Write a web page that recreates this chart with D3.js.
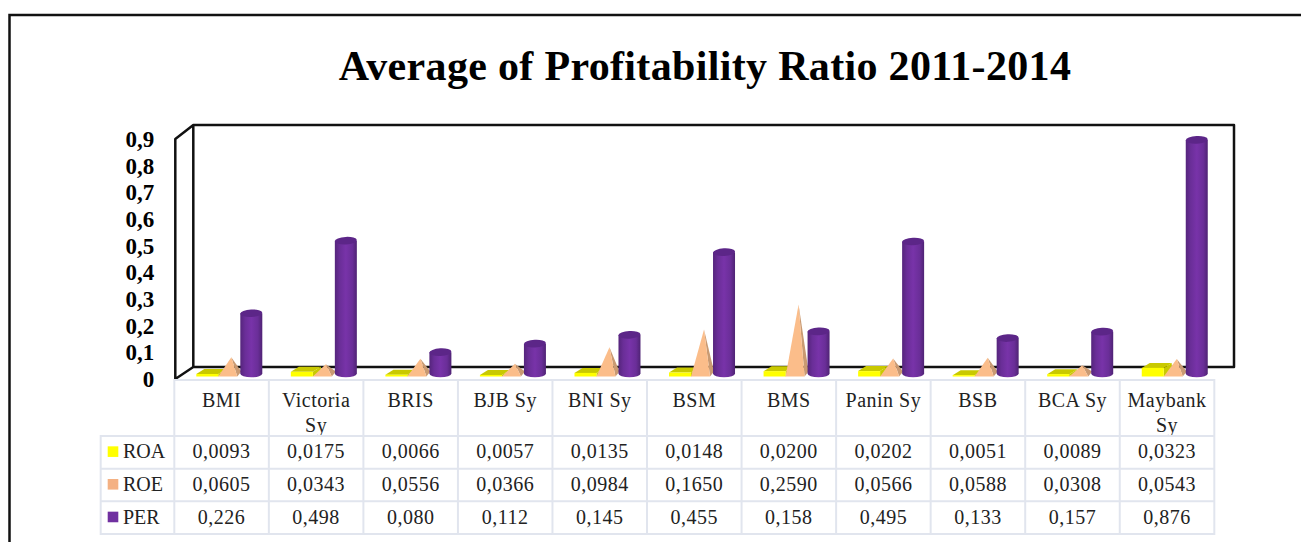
<!DOCTYPE html>
<html>
<head>
<meta charset="utf-8">
<script src="https://cdn.jsdelivr.net/npm/d3@7"></script>
<style>
  html, body { margin: 0; padding: 0; background: #fff; }
  svg { display: block; }
  text { font-family: "Liberation Serif", serif; }
  .cell { font-size: 20px; letter-spacing: 0.5px; fill: #222; text-anchor: middle; }
</style>
</head>
<body>
<div id="chart"></div>
<script>
  const categories = ["BMI", "Victoria Sy", "BRIS", "BJB Sy", "BNI Sy", "BSM", "BMS", "Panin Sy", "BSB", "BCA Sy", "Maybank Sy"];
  const wrapped = ["Victoria Sy", "Maybank Sy"];
  const seriesNames = ["ROA", "ROE", "PER"];
  const seriesColors = ["#ffff00", "#f4b183", "#7030a0"];

  const roa = [0.0093, 0.0175, 0.0066, 0.0057, 0.0135, 0.0148, 0.02, 0.0202, 0.0051, 0.0089, 0.0323];
  const roe = [0.0605, 0.0343, 0.0556, 0.0366, 0.0984, 0.165, 0.259, 0.0566, 0.0588, 0.0308, 0.0543];
  const per = [0.226, 0.498, 0.08, 0.112, 0.145, 0.455, 0.158, 0.495, 0.133, 0.157, 0.876];

  const roaLabels = ["0,0093", "0,0175", "0,0066", "0,0057", "0,0135", "0,0148", "0,0200", "0,0202", "0,0051", "0,0089", "0,0323"];
  const roeLabels = ["0,0605", "0,0343", "0,0556", "0,0366", "0,0984", "0,1650", "0,2590", "0,0566", "0,0588", "0,0308", "0,0543"];
  const perLabels = ["0,226", "0,498", "0,080", "0,112", "0,145", "0,455", "0,158", "0,495", "0,133", "0,157", "0,876"];

  const yTicks = [0, 0.1, 0.2, 0.3, 0.4, 0.5, 0.6, 0.7, 0.8, 0.9];

  const width = 1301;
  const height = 542;

  const svg = d3.select("#chart").append("svg").attr("width", width).attr("height", height);

  /* ----------------------- Scales ----------------------- */
  const x = d3.scaleBand().domain(categories).range([174.3, 1214.3]);
  const xInner = d3.scaleBand().domain(seriesNames).range([22, 88]);
  const y = d3.scaleLinear().domain([0, 0.9]).range([379, 139]);
  const rowY = d3.scaleBand().domain(seriesNames).range([436, 534]);

  const depthX = 18; // wall depth
  const depthY = 12;
  const boxDepthX = 8; // depth of a single mark
  const boxDepthY = 5;
  const baseY = y(0) - 2.5; // front edge of the marks
  const h = (v) => y(0) - y(v);

  /* ----------------------- Outer frame ----------------------- */
  svg
    .append("path")
    .attr("d", `M9.5,${height}V15H${width}`)
    .attr("fill", "none")
    .attr("stroke", "#111")
    .attr("stroke-width", 2.5);

  /* ----------------------- Title ----------------------- */
  svg
    .append("text")
    .attr("x", 705)
    .attr("y", 80)
    .attr("text-anchor", "middle")
    .style("font-size", "42px")
    .style("font-weight", "bold")
    .style("letter-spacing", "0.33px")
    .style("fill", "#000")
    .text("Average of Profitability Ratio 2011-2014");

  /* ----------------------- Walls ----------------------- */
  const x0 = x.range()[0] + 1;
  const yBottom = y(0);
  const yTop = y(0.9);
  const xRight = 1234;

  svg
    .append("path")
    .attr(
      "d",
      `M${x0},${yBottom}V${yTop}L${x0 + depthX},${yTop - depthY - 2}H${xRight}V${yBottom - depthY}H${x0 + depthX}V${yTop - depthY - 2}M${x0},${yBottom}L${x0 + depthX},${yBottom - depthY}`
    )
    .attr("fill", "none")
    .attr("stroke", "#111")
    .attr("stroke-width", 2.5)
    .attr("stroke-linejoin", "round");

  /* ----------------------- Y axis ----------------------- */
  const yAxis = d3
    .axisLeft(y)
    .tickValues(yTicks)
    .tickSize(0)
    .tickPadding(21)
    .tickFormat((d) => (d === 0 ? "0" : d3.format(".1f")(d).replace(".", ",")));

  const yAxisGroup = svg.append("g").attr("transform", `translate(${x0},0)`).call(yAxis);
  yAxisGroup.select(".domain").remove();
  yAxisGroup
    .selectAll(".tick text")
    .style("font-family", '"Liberation Serif", serif')
    .style("font-size", "23px")
    .style("font-weight", "bold")
    .style("fill", "#000");

  /* ----------------------- Gradient for the cylinders ----------------------- */
  const grad = svg
    .append("defs")
    .append("linearGradient")
    .attr("id", "cyl")
    .attr("x1", "0")
    .attr("x2", "1")
    .attr("y1", "0")
    .attr("y2", "0");
  grad.append("stop").attr("offset", "0").attr("stop-color", "#55257c");
  grad.append("stop").attr("offset", "0.22").attr("stop-color", "#6a2e98");
  grad.append("stop").attr("offset", "0.5").attr("stop-color", "#7833a9");
  grad.append("stop").attr("offset", "0.8").attr("stop-color", "#6a2e98");
  grad.append("stop").attr("offset", "1").attr("stop-color", "#4f2374");

  /* ----------------------- Marks ----------------------- */
  const rows = categories.map((c, i) => ({ c, roa: roa[i], roe: roe[i], per: per[i] }));
  const groups = svg
    .selectAll(".cat")
    .data(rows)
    .enter()
    .append("g")
    .attr("class", "cat")
    .attr("transform", (d) => `translate(${x(d.c)},0)`);

  const bw = xInner.bandwidth();

  // ROA: flat boxes
  const roaX = xInner("ROA");
  groups
    .append("path")
    .attr("fill", "#c9c900")
    .attr("d", (d) => `M${roaX + bw},${baseY}v${-h(d.roa)}l${boxDepthX},${-boxDepthY}v${h(d.roa)}Z`);
  groups
    .append("path")
    .attr("fill", "#c9c900")
    .attr(
      "d",
      (d) => `M${roaX},${baseY - h(d.roa)}h${bw}l${boxDepthX},${-boxDepthY}h${-bw}Z`
    );
  groups
    .append("rect")
    .attr("fill", seriesColors[0])
    .attr("x", roaX)
    .attr("y", (d) => baseY - h(d.roa))
    .attr("width", bw)
    .attr("height", (d) => h(d.roa));

  // ROE: pyramids
  const roeX = xInner("ROE");
  const apexX = roeX + bw / 2 + 2;
  groups
    .append("path")
    .attr("fill", "#c99a72")
    .attr(
      "d",
      (d) => `M${roeX + bw - 3},${baseY}L${roeX + bw + 1},${baseY - boxDepthY}L${apexX},${baseY - boxDepthY - h(d.roe) + 2}Z`
    );
  groups
    .append("path")
    .attr("fill", "#fbbd8a")
    .attr(
      "d",
      (d) => `M${roeX},${baseY}H${roeX + bw - 3}L${apexX},${baseY - boxDepthY - h(d.roe) + 2}Z`
    );

  // PER: cylinders
  const rx = 11;
  const ry = 3.8;
  const cx = xInner("PER") + bw / 2;
  const cylBase = y(0) - 5.5;
  groups
    .append("path")
    .attr("fill", "url(#cyl)")
    .attr(
      "d",
      (d) =>
        `M${cx - rx},${cylBase - h(d.per)}V${cylBase}A${rx},${ry} 0 0 0 ${cx + rx},${cylBase}V${cylBase - h(d.per)}Z`
    );
  groups
    .append("ellipse")
    .attr("fill", "#5c2688")
    .attr("cx", cx)
    .attr("cy", (d) => cylBase - h(d.per))
    .attr("rx", rx)
    .attr("ry", ry)
    .attr("transform", (d) => `rotate(-3 ${cx} ${cylBase - h(d.per)})`);

  /* ----------------------- Data table ----------------------- */
  const table = svg.append("g");

  const headerY = (name, line) => 407 + line * 25;
  categories.forEach((c) => {
    const lines = wrapped.includes(c) ? c.split(" ") : [c];
    lines.forEach((t, i) => {
      table
        .append("text")
        .attr("class", "cell")
        .attr("x", x(c) + x.bandwidth() / 2)
        .attr("y", headerY(c, i))
        .text(t);
    });
  });

  [roaLabels, roeLabels, perLabels].forEach((labels, r) => {
    const rowName = seriesNames[r];
    const by = rowY(rowName) + rowY.bandwidth() / 2 + 6;

    table
      .selectAll(`.val-${rowName}`)
      .data(labels)
      .enter()
      .append("text")
      .attr("class", `cell val-${rowName}`)
      .attr("x", (d, i) => x(categories[i]) + x.bandwidth() / 2)
      .attr("y", by)
      .text((d) => d);

    table
      .append("rect")
      .attr("x", 107.7)
      .attr("y", by - 12)
      .attr("width", 10.6)
      .attr("height", 10.6)
      .attr("fill", seriesColors[r]);

    table
      .append("text")
      .attr("x", 123)
      .attr("y", by)
      .style("font-size", "20px")
      .style("fill", "#222")
      .text(rowName);
  });

  // grid lines
  const gridColor = "#e1e5ee";
  const hLines = [
    { y: 380, from: x.range()[0], to: x.range()[1] },
    ...rowY.domain().map((d) => ({ y: rowY(d), from: 100.7, to: x.range()[1] })),
    { y: rowY.range()[1], from: 100.7, to: x.range()[1] },
  ];
  table
    .selectAll(".h-line")
    .data(hLines)
    .enter()
    .append("line")
    .attr("x1", (d) => d.from)
    .attr("x2", (d) => d.to)
    .attr("y1", (d) => d.y)
    .attr("y2", (d) => d.y)
    .attr("stroke", gridColor)
    .attr("stroke-width", 2);

  const vLines = [...categories.map((c) => x(c)), x.range()[1]];
  table
    .selectAll(".v-line")
    .data(vLines)
    .enter()
    .append("line")
    .attr("x1", (d) => d)
    .attr("x2", (d) => d)
    .attr("y1", 379)
    .attr("y2", rowY.range()[1] + 1)
    .attr("stroke", gridColor)
    .attr("stroke-width", 2);

  table
    .append("line")
    .attr("x1", 100.7)
    .attr("x2", 100.7)
    .attr("y1", rowY.range()[0] - 1)
    .attr("y2", rowY.range()[1] + 1)
    .attr("stroke", gridColor)
    .attr("stroke-width", 2);
</script>
</body>
</html>
